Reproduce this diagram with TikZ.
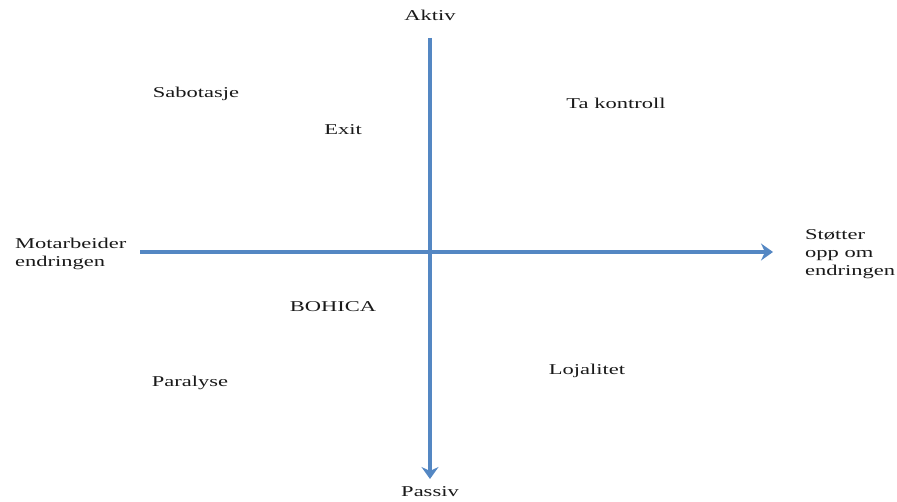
\documentclass[tikz,border=0pt]{standalone}
\usepackage{fontspec}
\setmainfont{Liberation Serif}
\usetikzlibrary{arrows.meta}
\definecolor{axisblue}{RGB}{84,135,195}
\newcommand{\sx}[1]{\scalebox{1.5}[1]{\begin{tabular}{@{}l@{}}#1\end{tabular}}}
\tikzset{
  lbl/.style={font=\fontsize{15}{18}\selectfont, inner sep=0pt, text=black!90},
  axisarrow/.style={draw=axisblue, line width=3.2pt, -{Stealth[length=12pt,width=17pt,inset=4pt]}}
}
\begin{document}
\begin{tikzpicture}[x=1pt,y=-1pt]
\useasboundingbox (0,0) rectangle (897,502);
\coordinate (top) at (430,38);
\coordinate (bottom) at (430,479);
\coordinate (left) at (140,252);
\coordinate (right) at (773,252);
\draw[axisarrow] (top) -- (bottom);
\draw[axisarrow] (left) -- (right);
\node[lbl] (aktiv) at (430,17) {\sx{Aktiv}};
\node[lbl] (passiv) at (430,493) {\sx{Passiv}};
\node[lbl] (sabotasje) at (196,94) {\sx{Sabotasje}};
\node[lbl] (exit) at (343,131) {\sx{Exit}};
\node[lbl] (takontroll) at (616,105) {\sx{Ta kontroll}};
\node[lbl, anchor=west] (motarbeider) at (15,254) {\sx{Motarbeider\\endringen}};
\node[lbl, anchor=west] (stotter) at (805,254) {\sx{Støtter\\opp om\\endringen}};
\node[lbl] (bohica) at (333,308) {\sx{BOHICA}};
\node[lbl] (lojalitet) at (587,371) {\sx{Lojalitet}};
\node[lbl] (paralyse) at (190,383) {\sx{Paralyse}};
\end{tikzpicture}
\end{document}
